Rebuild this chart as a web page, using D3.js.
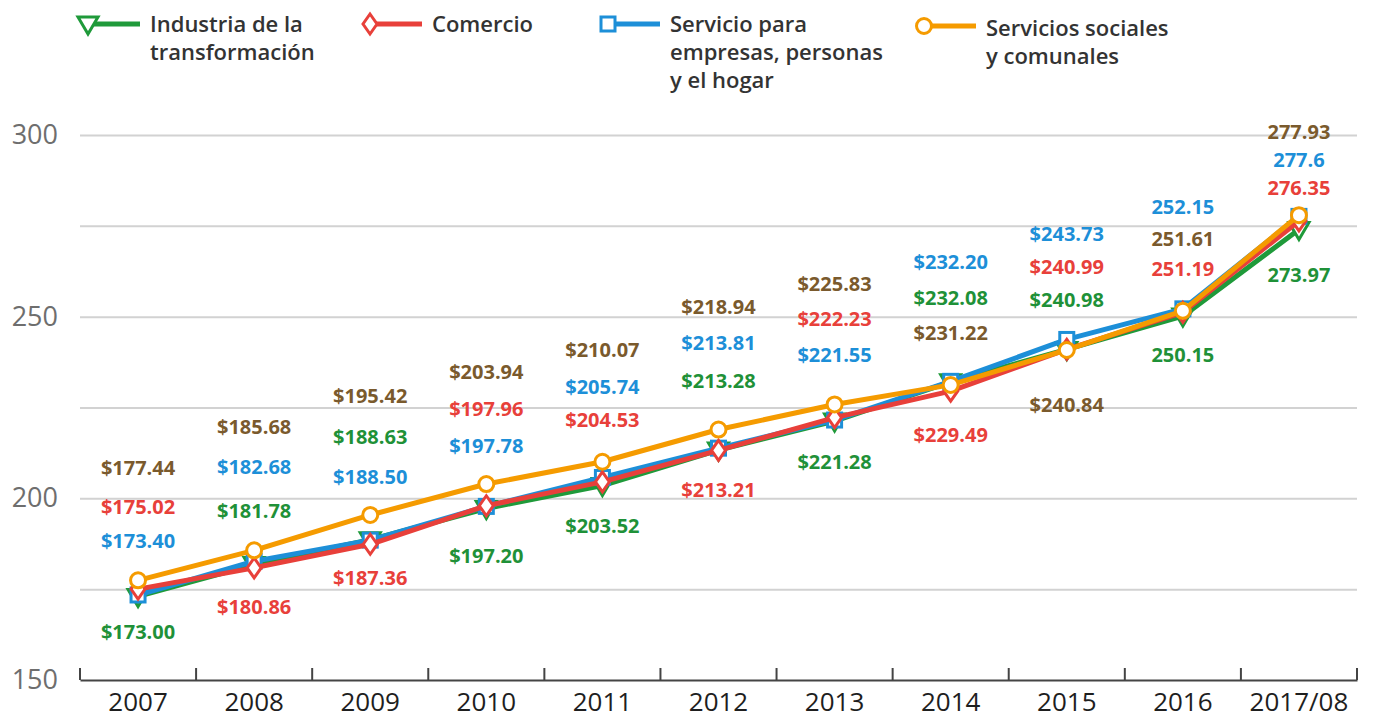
<!DOCTYPE html>
<html>
<head>
<meta charset="utf-8">
<script src="https://cdn.jsdelivr.net/npm/d3@7"></script>
<style>
  body { margin: 0; background: #fff; }
  svg { display: block; font-family: "Open Sans", sans-serif; }
</style>
</head>
<body>
<svg id="chart" width="1373" height="721"></svg>
<script>
// data
const years = ["2007", "2008", "2009", "2010", "2011", "2012", "2013", "2014", "2015", "2016", "2017/08"];
const industria = [173.00, 181.78, 188.63, 197.20, 203.52, 213.28, 221.28, 232.08, 240.98, 250.15, 273.97];
const comercio = [175.02, 180.86, 187.36, 197.96, 204.53, 213.21, 222.23, 229.49, 240.99, 251.19, 276.35];
const servEmpresas = [173.40, 182.68, 188.50, 197.78, 205.74, 213.81, 221.55, 232.20, 243.73, 252.15, 277.6];
const servSociales = [177.44, 185.68, 195.42, 203.94, 210.07, 218.94, 225.83, 231.22, 240.84, 251.61, 277.93];
const yTicks = [150, 175, 200, 225, 250, 275, 300];
const yLabelTicks = [150, 200, 250, 300];
// the last two columns have no "$" in the labels
const dollarLabel = [true, true, true, true, true, true, true, true, true, false, false];

// label placement: vertical offset (px) from the point
const dyIndustria = [36, -54, -103, 47, 40, -69, 41, -84, -49, 39, 45];
const dyComercio = [-82, 39, 34, -97, -62, 40, -99, 44, -82, -43, -33];
const dyEmpresas = [-54, -94, -63, -60, -90, -105, -65, -119, -105, -102, -56];
const dySociales = [-112, -123, -119, -112, -112, -123, -120, -52, 55, -72, -83];

const series = [
  { name: ["Industria de la", "transformación"], values: industria, dy: dyIndustria,
    color: "#1f9a3a", label: "#1f9138", marker: "triangle", lx: 88, ly: 24, ty: 32 },
  { name: ["Servicio para", "empresas, personas", "y el hogar"], values: servEmpresas, dy: dyEmpresas,
    color: "#1d8fd8", label: "#1d8fd8", marker: "square", lx: 608, ly: 24, ty: 32 },
  { name: ["Comercio"], values: comercio, dy: dyComercio,
    color: "#e8403a", label: "#e8403a", marker: "diamond", lx: 370, ly: 24, ty: 32 },
  { name: ["Servicios sociales", "y comunales"], values: servSociales, dy: dySociales,
    color: "#f59b00", label: "#7a5a2d", marker: "circle", lx: 924, ly: 26, ty: 36 }
];

const svg = d3.select("#chart");
const plotLeft = 80, plotRight = 1357, plotTop = 135, plotBottom = 680;

const x = d3.scaleBand().domain(years).range([plotLeft, plotRight]);
const y = d3.scaleLinear().domain([150, 300]).range([plotBottom, plotTop]);
const cx = d => x(d) + x.bandwidth() / 2;

// grid
const grid = svg.append("g")
  .attr("transform", `translate(${plotLeft},0)`)
  .call(d3.axisLeft(y).tickValues(yTicks).tickSize(-(plotRight - plotLeft))
    .tickFormat(d => yLabelTicks.includes(d) ? d : "").tickPadding(22));
grid.select(".domain").remove();
grid.selectAll(".tick line").attr("stroke", "#d2d2d2").attr("stroke-width", 2)
  .filter(d => d === 150).remove();
grid.selectAll(".tick text").attr("font-size", 27).attr("fill", "#6e6e6e")
  .attr("font-family", "Open Sans, sans-serif");

// x axis
const xAxis = svg.append("g")
  .attr("transform", `translate(0,${plotBottom})`)
  .call(d3.axisBottom(x).tickSize(0).tickPadding(13));
xAxis.select(".domain").attr("stroke", "#444").attr("stroke-width", 2);
xAxis.selectAll(".tick text").attr("font-size", 26).attr("font-weight", 500).attr("fill", "#1e1e1e")
  .attr("font-family", "Open Sans, sans-serif");
svg.append("g").selectAll("line")
  .data(years.map(d => x(d)).concat([plotRight]))
  .join("line")
  .attr("x1", d => d).attr("x2", d => d)
  .attr("y1", plotBottom).attr("y2", plotBottom - 12)
  .attr("stroke", "#444").attr("stroke-width", 2);

// markers
function drawMarker(sel, type, color) {
  if (type === "circle") {
    sel.append("circle").attr("r", 7.5)
      .attr("fill", "#fff").attr("stroke", color).attr("stroke-width", 3);
  } else if (type === "square") {
    sel.append("rect").attr("x", -7).attr("y", -7).attr("width", 14).attr("height", 14)
      .attr("fill", "#fff").attr("stroke", color).attr("stroke-width", 3);
  } else if (type === "diamond") {
    sel.append("path").attr("d", "M0,-10L7,0L0,10L-7,0Z")
      .attr("fill", "#fff").attr("stroke", color).attr("stroke-width", 3);
  } else {
    sel.append("path").attr("d", "M-10,-7L10,-7L0,10Z")
      .attr("fill", "#fff").attr("stroke", color).attr("stroke-width", 3);
  }
}

const line = d3.line().x((d, i) => cx(years[i])).y(d => y(d));

series.forEach(s => {
  const g = svg.append("g");
  g.append("path")
    .attr("d", line(s.values))
    .attr("fill", "none")
    .attr("stroke", s.color)
    .attr("stroke-width", 5)
    .attr("stroke-linejoin", "round");
  g.selectAll("g.pt")
    .data(s.values)
    .join("g")
    .attr("class", "pt")
    .attr("transform", (d, i) => `translate(${cx(years[i])},${y(d)})`)
    .each(function () { drawMarker(d3.select(this), s.marker, s.color); });
});

// value labels
const fmt2 = d3.format(".2f");
const fmtTrim = d3.format("~f");
series.forEach(s => {
  svg.append("g").selectAll("text")
    .data(s.values)
    .join("text")
    .attr("x", (d, i) => cx(years[i]))
    .attr("y", (d, i) => y(d) + s.dy[i])
    .attr("dy", "0.35em")
    .attr("text-anchor", "middle")
    .attr("font-size", 20)
    .attr("font-weight", 700)
    .attr("fill", s.label)
    .text((d, i) => dollarLabel[i] ? "$" + fmt2(d) : fmtTrim(d));
});

// legend
series.forEach(s => {
  const g = svg.append("g").attr("transform", `translate(${s.lx},0)`);
  g.append("line").attr("x1", 0).attr("x2", 52).attr("y1", s.ly).attr("y2", s.ly)
    .attr("stroke", s.color).attr("stroke-width", 5);
  const m = g.append("g").attr("transform", `translate(0,${s.ly})`);
  drawMarker(m, s.marker, s.color);
  g.append("text")
    .attr("y", s.ty)
    .attr("font-size", 22)
    .attr("font-weight", 600)
    .attr("fill", "#333")
    .selectAll("tspan")
    .data(s.name)
    .join("tspan")
    .attr("x", 62)
    .attr("dy", (d, i) => i === 0 ? 0 : 28)
    .text(d => d);
});
</script>
</body>
</html>
